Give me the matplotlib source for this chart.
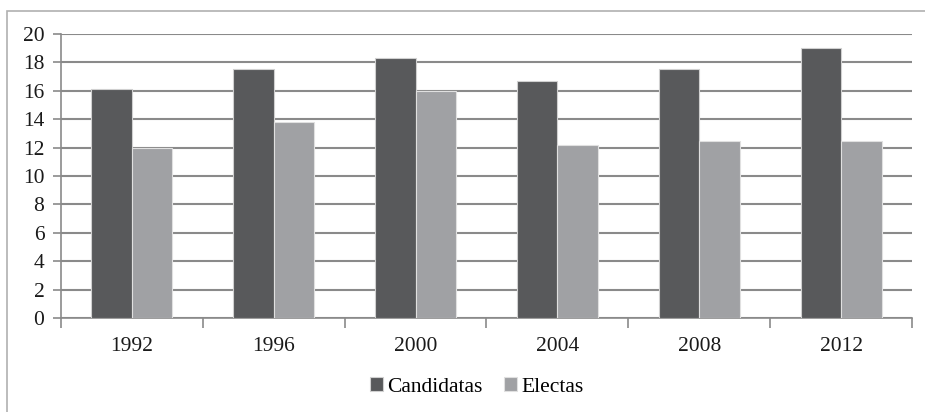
import numpy as np
import matplotlib
matplotlib.use("Agg")
from matplotlib import pyplot
from matplotlib.patches import Rectangle

# datos
anios = ["1992", "1996", "2000", "2004", "2008", "2012"]
candidatas = [16.1, 17.5, 18.3, 16.7, 17.5, 19.0]
electas = [12.0, 13.8, 16.0, 12.2, 12.5, 12.5]

pyplot.rcParams['font.family'] = ['Liberation Serif', 'DejaVu Serif']

figura = pyplot.figure(figsize=(9.25, 4.12), dpi=100)
W, H = 925, 412

# marco exterior del gráfico
figura.patches.append(Rectangle((7 / W, 0 - 0.05), 1.2, 1 - 11 / H + 0.05,
                                transform=figura.transFigure, fill=False,
                                edgecolor='#b0b0b0', linewidth=1.2))

ax = figura.add_axes([61 / W, 1 - 318 / H, (912 - 61) / W, (318 - 34) / H])

x = np.arange(len(anios))
ancho = 1 / 3.5
ax.bar(x - ancho / 2, candidatas, ancho, color='#58595b', edgecolor='#d0d0d0',
       linewidth=0.8, label='Candidatas', zorder=3)
ax.bar(x + ancho / 2, electas, ancho, color='#a0a1a4', edgecolor='#e0e0e0',
       linewidth=0.8, label='Electas', zorder=3)

ax.set_xlim(-0.5, len(anios) - 0.5)
ax.set_ylim(0, 20)
ax.set_yticks(range(0, 21, 2))
ax.yaxis.grid(True, color='#8a8a8a', linewidth=1.5, zorder=0)
ax.set_axisbelow(True)

# ticks del eje x en los límites de categoría
ax.set_xticks(np.arange(-0.5, len(anios)), minor=False)
ax.set_xticklabels([])
ax.set_xticks(x, minor=True)
ax.set_xticklabels(anios, minor=True)
ax.tick_params(axis='x', which='major', length=7, width=1.2, color='#8a8a8a',
               direction='out')
ax.tick_params(axis='x', which='minor', length=0, labelsize=15.5, pad=14,
               labelcolor='#1a1a1a')
ax.tick_params(axis='y', length=6, width=1.2, color='#8a8a8a', labelsize=15.5,
               pad=6, labelcolor='#1a1a1a')

for lado in ['top', 'right']:
    ax.spines[lado].set_visible(False)
ax.spines['left'].set_color('#8a8a8a')
ax.spines['bottom'].set_color('#8a8a8a')
ax.spines['left'].set_linewidth(1.2)
ax.spines['bottom'].set_linewidth(1.2)

figura.legend(loc='center', bbox_to_anchor=(477 / W, 1 - 387 / H), ncol=2,
              frameon=False, fontsize=15.5, handlelength=0.6, handleheight=0.6,
              handletextpad=0.2, columnspacing=1.0)

figura.savefig('out.png', dpi=100)
